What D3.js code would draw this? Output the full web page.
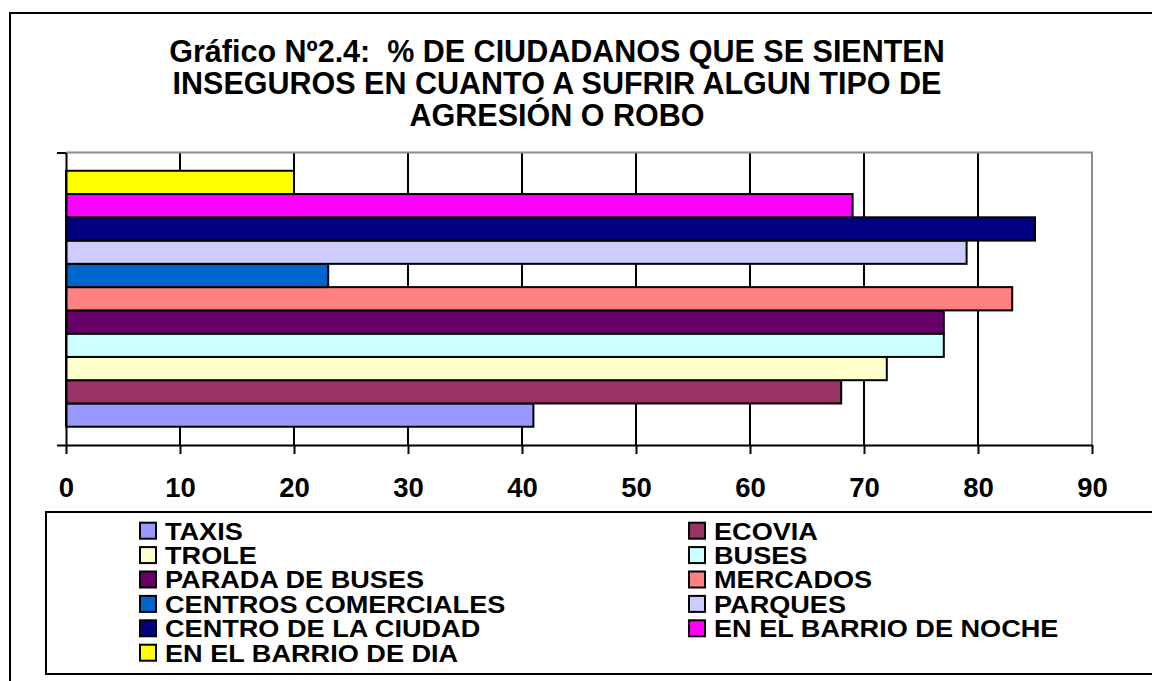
<!DOCTYPE html>
<html>
<head>
<meta charset="utf-8">
<script src="https://cdn.jsdelivr.net/npm/d3@7"></script>
<style>
    html, body { margin: 0; padding: 0; background: #fff; }
    #chart { width: 1152px; height: 681px; }
    text { font-family: Arial, "Liberation Sans", sans-serif; font-weight: bold; fill: #000; white-space: pre; }
</style>
</head>
<body>
<div id="chart"></div>
<script>
// data (bottom bar first)
var categories = ['TAXIS', 'ECOVIA', 'TROLE', 'BUSES', 'PARADA DE BUSES', 'MERCADOS',
    'CENTROS COMERCIALES', 'PARQUES', 'CENTRO DE LA CIUDAD', 'EN EL BARRIO DE NOCHE', 'EN EL BARRIO DE DIA'];
var values = [41, 68, 72, 77, 77, 83, 23, 79, 85, 69, 20];
var colors = ['#9999FF', '#993366', '#FFFFCC', '#CCFFFF', '#660066', '#FF8080',
    '#0066CC', '#CCCCFF', '#000080', '#FF00FF', '#FFFF00'];
var xTicks = [0, 10, 20, 30, 40, 50, 60, 70, 80, 90];
var titleLines = ['Gráfico Nº2.4:  % DE CIUDADANOS QUE SE SIENTEN',
    'INSEGUROS EN CUANTO A SUFRIR ALGUN TIPO DE',
    'AGRESIÓN O ROBO'];

var Chart = function() {

    var _Chart = function (opts) {
        this.element = opts.element;
        this.__init();
    }

    _Chart.prototype = {
        __init: function() {
            this.width = 1152;
            this.height = 681;
            this.margin = { top: 152.5, left: 66 };
            this.plotW = 1026;
            this.plotH = 292.5;

            this.svg = d3.select(this.element)
                .append('svg')
                .attr('width', this.width)
                .attr('height', this.height);

            // outer frame (runs past the right and bottom edges)
            this.svg.append('rect')
                .attr('x', 10).attr('y', 13)
                .attr('width', 1300).attr('height', 800)
                .style('fill', 'none').style('stroke', '#000').style('stroke-width', 2);

            this.plat = this.svg.append('g')
                .attr('transform', 'translate(' + this.margin.left + ',' + this.margin.top + ')');

            this.__createScales();
            this.__addTitle();
            this.__addGrid();
            this.__addBars();
            this.__addAxes();
            this.__addLegend();
        },
        __createScales: function() {
            this.xScale = d3.scaleLinear()
                .domain([0, 90])
                .range([0, this.plotW]);

            this.yScale = d3.scaleBand()
                .domain(categories)
                .range([this.plotH, 0])
                .paddingInner(0)
                .paddingOuter(0.785);
        },
        __addTitle: function() {
            this.svg.selectAll('.title')
                .data(titleLines)
                .enter().append('text')
                .attr('class', 'title')
                .attr('text-anchor', 'middle')
                .attr('x', 557)
                .attr('y', function (d, i) { return 62 + i * 32; })
                .style('font-size', '30.5px')
                .text(function (d) { return d; });
        },
        __addGrid: function() {
            var _this = this;
            this.plat.selectAll('.grid')
                .data(xTicks.slice(1, -1))
                .enter().append('line')
                .attr('class', 'grid')
                .attr('x1', function (d) { return _this.xScale(d); })
                .attr('x2', function (d) { return _this.xScale(d); })
                .attr('y1', 0)
                .attr('y2', this.plotH)
                .style('stroke', '#000')
                .style('stroke-width', 2);

            // plot border top and right in grey
            this.plat.append('path')
                .attr('d', 'M0,0H' + this.xScale(90) + 'V' + this.plotH)
                .style('fill', 'none')
                .style('stroke', '#8c8c8c')
                .style('stroke-width', 2);
        },
        __addBars: function() {
            var _this = this;
            this.plat.selectAll('.bar')
                .data(values)
                .enter().append('rect')
                .attr('class', 'bar')
                .attr('x', this.xScale(0))
                .attr('y', function (d, i) { return _this.yScale(categories[i]); })
                .attr('width', function (d) { return _this.xScale(d) - _this.xScale(0); })
                .attr('height', this.yScale.bandwidth())
                .style('fill', function (d, i) { return colors[i]; })
                .style('stroke', '#000')
                .style('stroke-width', 2);
        },
        __addAxes: function() {
            var xAxis = d3.axisBottom(this.xScale)
                .tickValues(xTicks)
                .tickSize(9)
                .tickSizeOuter(0)
                .tickPadding(23);

            var gx = this.plat.append('g')
                .attr('class', 'x-axis')
                .attr('transform', 'translate(0,' + this.plotH + ')')
                .call(xAxis);
            gx.select('.domain').style('stroke', '#000').style('stroke-width', 2);
            gx.selectAll('.tick line').style('stroke', '#000').style('stroke-width', 2);
            gx.selectAll('.tick text')
                .style('font-size', '27.5px')
                .style('font-family', 'Arial, "Liberation Sans", sans-serif');

            var yAxis = d3.axisLeft(d3.scaleLinear().range([this.plotH, 0]))
                .tickValues([0, 1])
                .tickFormat('')
                .tickSize(9)
                .tickSizeOuter(0);

            var gy = this.plat.append('g')
                .attr('class', 'y-axis')
                .call(yAxis);
            gy.select('.domain').style('stroke', '#000').style('stroke-width', 2);
            gy.selectAll('.tick line').style('stroke', '#000').style('stroke-width', 2);
        },
        __addLegend: function() {
            var box = { x: 46, y: 512, h: 162 };
            var cols = [139, 688];
            var row0 = 530.7, rowStep = 24.4;

            this.svg.append('rect')
                .attr('x', box.x).attr('y', box.y)
                .attr('width', 1200).attr('height', box.h)
                .style('fill', '#fff').style('stroke', '#000').style('stroke-width', 2);

            var item = this.svg.selectAll('.legend-item')
                .data(categories)
                .enter().append('g')
                .attr('class', 'legend-item')
                .attr('transform', function (d, i) {
                    return 'translate(' + cols[i % 2] + ',' + (row0 + Math.floor(i / 2) * rowStep) + ')';
                });

            item.append('rect')
                .attr('x', 1).attr('y', -8)
                .attr('width', 16).attr('height', 16)
                .style('fill', function (d, i) { return colors[i]; })
                .style('stroke', '#000')
                .style('stroke-width', 2);

            // legend text is a little wider than plain Arial in the picture
            item.append('text')
                .attr('transform', 'translate(26,8.8) scale(1.13,1)')
                .style('font-size', '24px')
                .text(function (d) { return d; });
        }
    }

    return _Chart;
}.call(this);

new Chart({ element: document.getElementById('chart') });
</script>
</body>
</html>
